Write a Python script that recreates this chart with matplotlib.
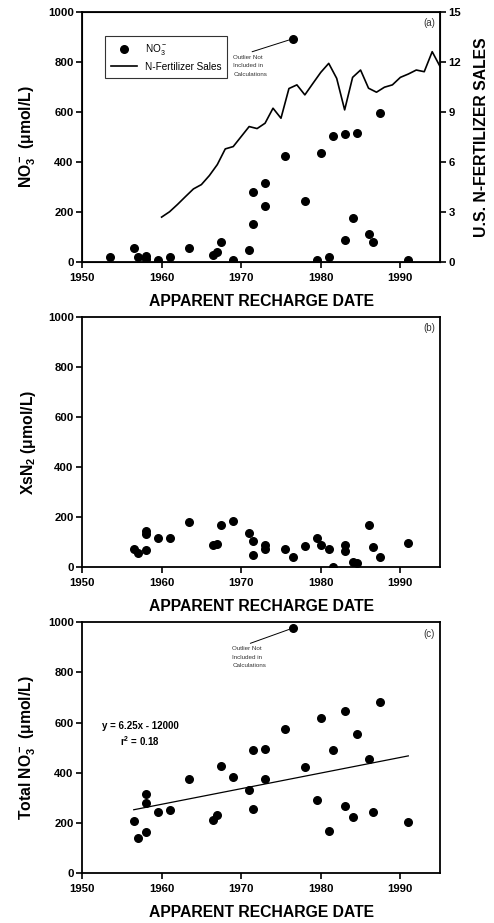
import matplotlib
matplotlib.use("Agg")
import matplotlib.pyplot as plt
import numpy as np

plt.rcParams['font.family'] = ['Liberation Sans', 'DejaVu Sans']
plt.rcParams['mathtext.fontset'] = 'custom'
plt.rcParams['mathtext.rm'] = 'Liberation Sans:bold'
plt.rcParams['mathtext.bf'] = 'Liberation Sans:bold'
plt.rcParams['mathtext.sf'] = 'Liberation Sans'
plt.rcParams['mathtext.default'] = 'rm'

# recharge dates shared by the sampled wells
dates = [1953.5, 1956.5, 1957.0, 1958.0, 1958.0, 1959.5, 1961.0, 1963.5, 1966.5, 1967.0,
         1967.5, 1969.0, 1971.0, 1971.5, 1971.5, 1973.0, 1973.0, 1975.5, 1976.5, 1978.0,
         1979.5, 1980.0, 1981.0, 1981.5, 1983.0, 1983.0, 1984.0, 1984.5, 1986.0, 1986.5,
         1987.5, 1991.0]
no3 = [19, 55, 21, 24, 11, 8, 19, 55, 28, 41,
       81, 8, 49, 154, 280, 316, 224, 425, 893, 246,
       8, 435, 19, 503, 514, 87, 178, 517, 113, 81,
       597, 8]

fert_years = list(range(1960, 1996))
fert_sales = [2.70, 3.02, 3.46, 3.93, 4.39, 4.65, 5.19, 5.85, 6.79, 6.93,
              7.53, 8.13, 8.01, 8.33, 9.23, 8.63, 10.41, 10.63, 10.03, 10.71,
              11.38, 11.92, 11.02, 9.13, 11.08, 11.52, 10.43, 10.19, 10.49, 10.63,
              11.08, 11.28, 11.52, 11.42, 12.62, 11.72]

xs_dates = [1956.5, 1957.0, 1958.0, 1958.0, 1958.0, 1959.5, 1961.0, 1963.5, 1966.5, 1967.0,
            1967.5, 1969.0, 1971.0, 1971.5, 1971.5, 1973.0, 1973.0, 1975.5, 1976.5, 1978.0,
            1979.5, 1980.0, 1981.0, 1981.5, 1983.0, 1983.0, 1984.0, 1984.5, 1986.0, 1986.5,
            1987.5, 1991.0]
xsn2 = [74, 56, 146, 132, 69, 116, 116, 180, 88, 93,
        170, 184, 138, 106, 49, 90, 74, 74, 41, 86,
        117, 90, 73, 0, 90, 65, 23, 17, 169, 81,
        43, 97]

total_no3 = [206, 138, 315, 278, 165, 243, 253, 376, 210, 231,
             426, 382, 330, 489, 255, 493, 375, 574, 977, 422,
             293, 618, 166, 491, 646, 267, 225, 553, 453, 243,
             682, 203]
outlier_idx = 18

fig = plt.figure(figsize=(4.94, 9.23), dpi=100)
ax_a = fig.add_axes([0.166, 0.716, 0.725, 0.271])
ax_b = fig.add_axes([0.166, 0.3854, 0.725, 0.2715])
ax_c = fig.add_axes([0.166, 0.0542, 0.725, 0.2716])

tickfont = dict(fontsize=8.2, fontweight='bold')
labfont = dict(fontsize=11.3, fontweight='bold')


def style(ax, ylabel, tag):
    ax.set_xlim(1950, 1995)
    ax.set_ylim(0, 1000)
    ax.set_xticks([1950, 1960, 1970, 1980, 1990])
    ax.set_yticks([0, 200, 400, 600, 800, 1000])
    ax.set_xticklabels([1950, 1960, 1970, 1980, 1990], **tickfont)
    ax.set_yticklabels([0, 200, 400, 600, 800, 1000], **tickfont)
    ax.tick_params(direction='out', length=4, width=1.2, pad=2)
    ax.tick_params(axis='x', pad=4)
    for s in ax.spines.values():
        s.set_linewidth(1.3)
    ax.set_xlabel('APPARENT RECHARGE DATE', labelpad=8, **labfont)
    ax.set_ylabel(ylabel, labelpad=7, **labfont)
    ax.text(0.985, 0.975, tag, transform=ax.transAxes, ha='right', va='top', fontsize=7,
            color='#333333')


# (a)
ax_a.scatter(dates, no3, s=30, color='black', zorder=3, label='NO$\\mathsf{_3^-}$')
style(ax_a, 'NO$_3^-$ (\u03bcmol/L)', '(a)')
ax_r = ax_a.twinx()
ax_r.plot(fert_years, fert_sales, color='black', lw=1.2, label='N-Fertilizer Sales')
ax_r.set_ylim(0, 15)
ax_r.set_yticks([0, 3, 6, 9, 12, 15])
ax_r.set_yticklabels([0, 3, 6, 9, 12, 15], **tickfont)
ax_r.tick_params(direction='out', length=4, width=1.2, pad=2)
ax_r.set_ylabel('U.S. N-FERTILIZER SALES', labelpad=9, **labfont)
h1, l1 = ax_a.get_legend_handles_labels()
h2, l2 = ax_r.get_legend_handles_labels()
leg = ax_a.legend(h1 + h2, l1 + l2, loc='upper left', bbox_to_anchor=(0.064, 0.904),
                  borderaxespad=0, fontsize=7.2, frameon=True, fancybox=False,
                  edgecolor='black', borderpad=0.6, handlelength=2.6, labelspacing=0.45)
leg.get_frame().set_linewidth(0.8)

ax_a.annotate('Outlier Not\nIncluded in\nCalculations', xy=(dates[outlier_idx], no3[outlier_idx]),
              xytext=(1969.0, 830), fontsize=4.5, va='top', ha='left', color='#333333',
              linespacing=1.9,
              arrowprops=dict(arrowstyle='-', lw=0.7, color='black', shrinkA=0, shrinkB=3,
                              relpos=(0.3, 1.0)))

# (b)
ax_b.scatter(xs_dates, xsn2, s=30, color='black', zorder=3)
style(ax_b, 'XsN$_2$ (\u03bcmol/L)', '(b)')

# (c)
ax_c.scatter(xs_dates, total_no3, s=30, color='black', zorder=3)
style(ax_c, 'Total NO$_3^-$ (\u03bcmol/L)', '(c)')
fx = np.array([d for i, d in enumerate(xs_dates) if i != outlier_idx])
fy = np.array([v for i, v in enumerate(total_no3) if i != outlier_idx])
slope, intercept = np.polyfit(fx, fy, 1)
lx = np.array([min(fx), max(fx)])
ax_c.plot(lx, slope * lx + intercept, color='black', lw=0.9)
ax_c.text(1957.3, 553, 'y = 6.25x - 12000\nr$^2$ = 0.18', fontsize=7, fontweight='bold',
          ha='center', va='center', linespacing=1.3)
ax_c.annotate('Outlier Not\nIncluded in\nCalculations', xy=(xs_dates[outlier_idx], total_no3[outlier_idx]),
              xytext=(1968.9, 905), fontsize=4.5, va='top', ha='left', color='#333333',
              linespacing=1.9,
              arrowprops=dict(arrowstyle='-', lw=0.7, color='black', shrinkA=0, shrinkB=3,
                              relpos=(0.3, 1.0)))

fig.savefig('out.png', dpi=100)
